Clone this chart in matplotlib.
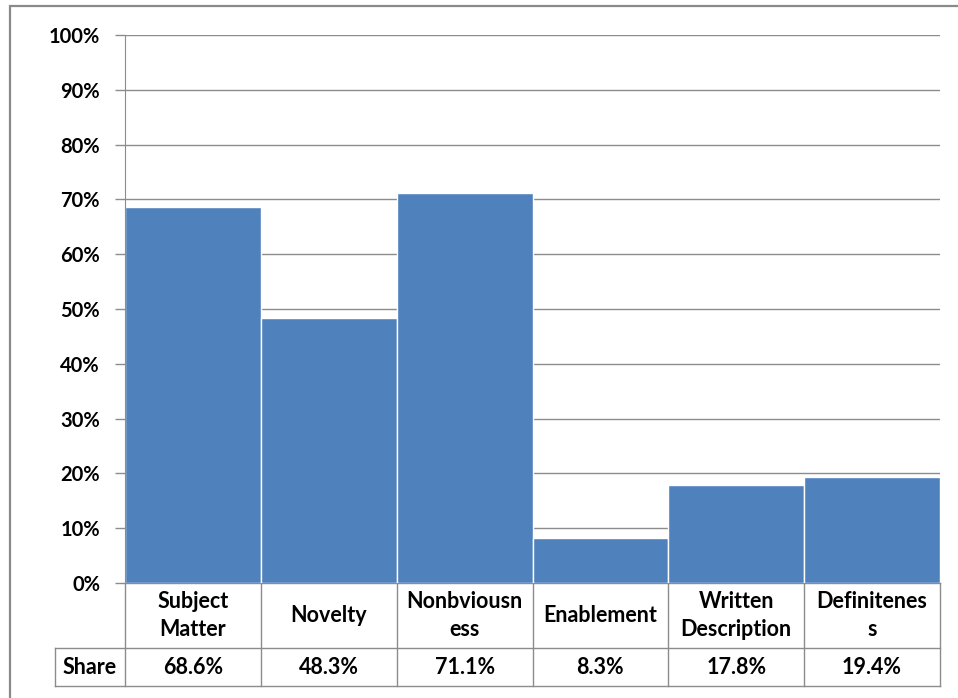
import matplotlib.pyplot as plt
from matplotlib.patches import Rectangle
from matplotlib.lines import Line2D
from matplotlib.ticker import FuncFormatter

categories = ["Subject\nMatter", "Novelty", "Nonbviousn\ness", "Enablement",
              "Written\nDescription", "Definitenes\ns"]
share = [68.6, 48.3, 71.1, 8.3, 17.8, 19.4]
row_label = "Share"

BAR = "#4F81BD"
GRID = "#8C8C8C"
FONT = "Lato"

plt.rcParams['font.family'] = [FONT, 'DejaVu Sans']

fig = plt.figure(figsize=(9.58, 6.98), dpi=100)
W, H = 958, 698

# outer chart frame (runs off the right/bottom edge)
fig.patches.append(Rectangle((10 / W, -0.05), 1.0, (692 + 35) / H, transform=fig.transFigure,
                             fill=False, edgecolor="#8A8A8A", linewidth=1.6))

ax = fig.add_axes([125 / W, (H - 583) / H, 815 / W, 548 / H])
x = list(range(len(share)))
ax.bar(x, share, width=1.0, color=BAR, edgecolor="white", linewidth=1.0, zorder=3)
ax.set_xlim(-0.5, len(share) - 0.5)
ax.set_ylim(0, 100)
ax.set_yticks(range(0, 101, 10))
ax.yaxis.set_major_formatter(FuncFormatter(lambda v, p: f"{v:.0f}%"))
ax.tick_params(axis='y', length=7, width=1, color=GRID, pad=11, labelsize=14.5)
ax.tick_params(axis='x', length=0, labelbottom=False)
for lbl in ax.get_yticklabels():
    lbl.set_fontweight("bold")
ax.grid(axis='y', color=GRID, linewidth=1, zorder=0)
for side in ["top", "right", "bottom"]:
    ax.spines[side].set_visible(False)
ax.spines["left"].set_color(GRID)
ax.spines["left"].set_zorder(4)

# data table under the axis
tr = ax.get_xaxis_transform()
y_top, y_mid, y_bot = 0.0, (583 - 648) / 548, (583 - 686) / 548
x_head = -0.5 - 70 / (815 / 6)
n = len(share)
kw = dict(transform=tr, color=GRID, linewidth=1, clip_on=False)
ax.add_line(Line2D([-0.5, n - 0.5], [y_top, y_top], **kw))
ax.add_line(Line2D([x_head, n - 0.5], [y_mid, y_mid], **kw))
ax.add_line(Line2D([x_head, n - 0.5], [y_bot, y_bot], **kw))
ax.add_line(Line2D([x_head, x_head], [y_mid, y_bot], **kw))
for i in range(n + 1):
    ax.add_line(Line2D([i - 0.5, i - 0.5], [y_top, y_bot], **kw))

fs = 15.5
for i, (c, v) in enumerate(zip(categories, share)):
    ax.text(i, (y_top + y_mid) / 2, c, transform=tr, ha="center", va="center",
            fontsize=fs, fontweight="bold", linespacing=1.45, clip_on=False)
    ax.text(i, (y_mid + y_bot) / 2, f"{v:.1f}%", transform=tr, ha="center",
            va="center", fontsize=fs, fontweight="bold", clip_on=False)
ax.text((x_head - 0.5) / 2, (y_mid + y_bot) / 2, row_label, transform=tr,
        ha="center", va="center", fontsize=fs, fontweight="bold", clip_on=False)

fig.savefig("out.png", dpi=100)
